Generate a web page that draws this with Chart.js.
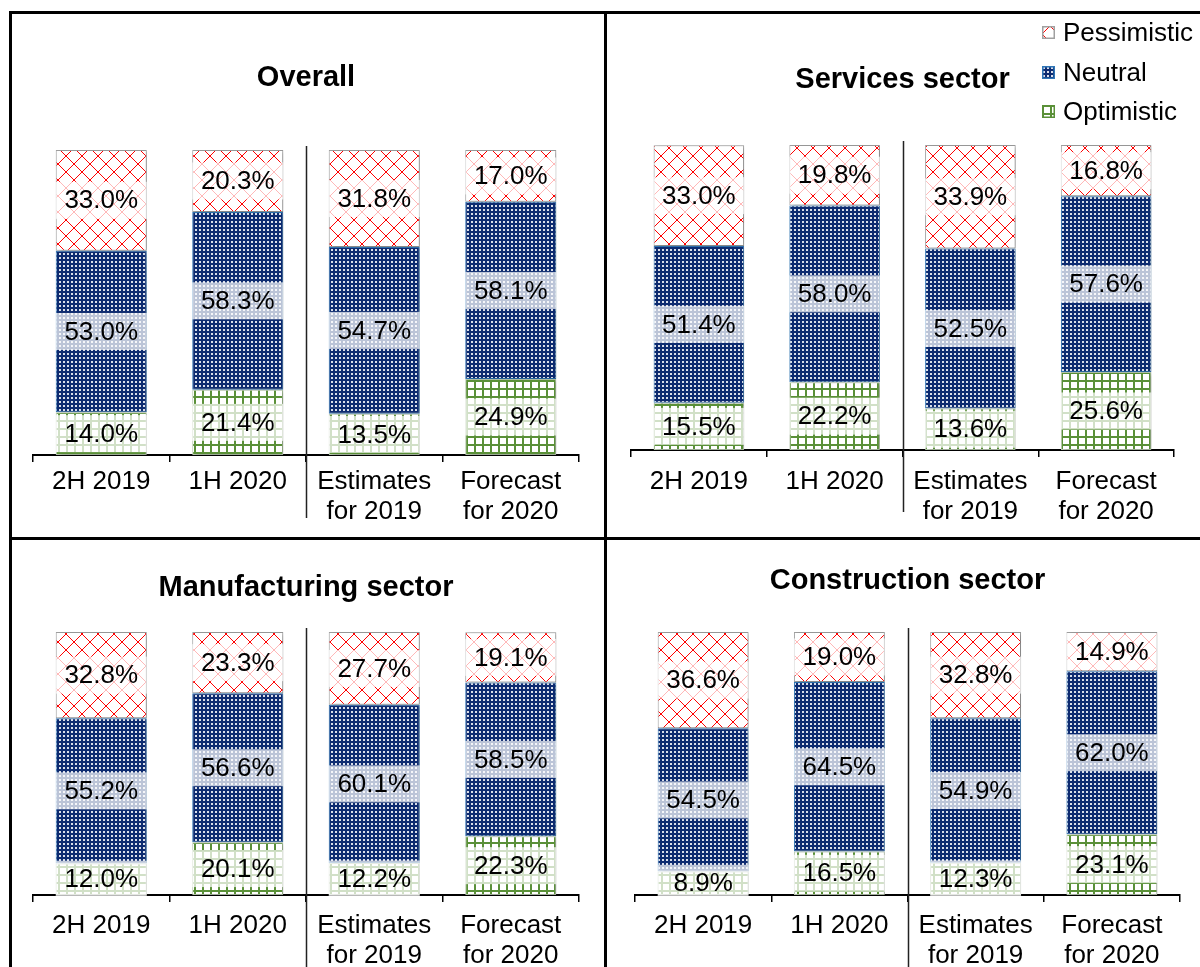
<!DOCTYPE html>
<html>
<head>
<meta charset="utf-8">
<script src="https://cdn.jsdelivr.net/npm/chart.js@4.4.0/dist/chart.umd.min.js"></script>
<style>
  body { margin: 0; background: #fff; width: 1200px; height: 967px; overflow: hidden; position: relative;
         font-family: 'Liberation Sans', Arial, sans-serif; }
  .panel { position: absolute; }
  .rule { position: absolute; background: #000; z-index: 5; }
  #legend { position: absolute; left: 1042px; top: 13px; z-index: 6; }
  .item { height: 39.5px; display: flex; align-items: center; font-size: 26px; color: #000; }
  .item canvas { margin-right: 8px; }
</style>
</head>
<body>
<canvas id="c1" class="panel" width="595" height="526" style="left:10px;top:12px"></canvas>
<canvas id="c2" class="panel" width="595" height="526" style="left:605px;top:12px"></canvas>
<canvas id="c3" class="panel" width="595" height="429" style="left:10px;top:538px"></canvas>
<canvas id="c4" class="panel" width="595" height="429" style="left:605px;top:538px"></canvas>

<div class="rule" style="left:9px;top:11px;width:1191px;height:3px"></div>
<div class="rule" style="left:9px;top:11px;width:3px;height:956px"></div>
<div class="rule" style="left:604px;top:11px;width:3px;height:956px"></div>
<div class="rule" style="left:9px;top:537px;width:1191px;height:3px"></div>

<div id="legend"></div>

<script>
// Categories (x axis)
const categories = ["2H 2019", "1H 2020", ["Estimates", "for 2019"], ["Forecast", "for 2020"]];
const seriesNames = ["Optimistic", "Neutral", "Pessimistic"];

// Overall
const overallOptimistic  = [14.0, 21.4, 13.5, 24.9];
const overallNeutral     = [53.0, 58.3, 54.7, 58.1];
const overallPessimistic = [33.0, 20.3, 31.8, 17.0];

// Services sector
const servicesOptimistic  = [15.5, 22.2, 13.6, 25.6];
const servicesNeutral     = [51.4, 58.0, 52.5, 57.6];
const servicesPessimistic = [33.0, 19.8, 33.9, 16.8];

// Manufacturing sector
const manufOptimistic  = [12.0, 20.1, 12.2, 22.3];
const manufNeutral     = [55.2, 56.6, 60.1, 58.5];
const manufPessimistic = [32.8, 23.3, 27.7, 19.1];

// Construction sector
const constrOptimistic  = [8.9, 16.5, 12.3, 23.1];
const constrNeutral     = [54.5, 64.5, 54.9, 62.0];
const constrPessimistic = [36.6, 19.0, 32.8, 14.9];

const FONT = "'Liberation Sans', Arial, sans-serif";

// Patrones de relleno
function makePattern(kind) {
  const c = document.createElement("canvas");
  const g = c.getContext("2d");
  if (kind === "Pessimistic") {
    c.width = c.height = 16;
    g.fillStyle = "#fff"; g.fillRect(0, 0, 16, 16);
    g.strokeStyle = "#ff0000"; g.lineWidth = 1;
    g.beginPath();
    g.moveTo(0, 8); g.lineTo(8, 0); g.lineTo(16, 8); g.lineTo(8, 16); g.closePath();
    g.stroke();
  } else if (kind === "Neutral") {
    c.width = c.height = 4;
    g.fillStyle = "#0d2b70"; g.fillRect(0, 0, 4, 4);
    g.fillStyle = "rgba(255,255,255,0.85)"; g.fillRect(1, 1, 2, 2);
  } else {
    c.width = c.height = 8;
    g.fillStyle = "#fff"; g.fillRect(0, 0, 8, 8);
    g.fillStyle = "#5a9038";
    g.fillRect(0, 0, 8, 2);
    g.fillRect(0, 0, 2, 8);
  }
  return g.createPattern(c, "repeat");
}

const fills = {
  Optimistic: makePattern("Optimistic"),
  Neutral: makePattern("Neutral"),
  Pessimistic: makePattern("Pessimistic")
};
const borders = { Optimistic: "#b9c9b0", Neutral: "#2e75b6", Pessimistic: "#a0a0a0" };

// Etiquetas con caja semitransparente + sombra de barras
const labelPlugin = {
  id: "segLabels",
  beforeDatasetsDraw(chart) {
    const ctx = chart.ctx;
    ctx.save();
    ctx.shadowColor = "rgba(0,0,0,0.25)";
    ctx.shadowBlur = 4;
    ctx.shadowOffsetX = 3;
    ctx.shadowOffsetY = 1;
  },
  afterDatasetsDraw(chart) {
    const ctx = chart.ctx;
    ctx.restore();
    ctx.save();
    ctx.font = "26px " + FONT;
    ctx.textAlign = "center";
    ctx.textBaseline = "middle";
    chart.data.datasets.forEach((ds, i) => {
      const meta = chart.getDatasetMeta(i);
      meta.data.forEach((bar, j) => {
        const p = bar.getProps(["x", "y", "base", "width"], true);
        const txt = ds.data[j].toFixed(1) + "%";
        const tw = ctx.measureText(txt).width;
        const bw = Math.max(p.width, tw + 8);
        const cy = (p.y + p.base) / 2;
        ctx.fillStyle = "rgba(255,255,255,0.72)";
        ctx.fillRect(p.x - bw / 2, cy - 18.5, bw, 37);
        ctx.fillStyle = "#000";
        ctx.fillText(txt, p.x, cy + 1);
      });
    });
    ctx.restore();
  },
  afterDraw(chart) {
    // línea separadora entre datos reales y estimaciones
    const xs = chart.scales.x;
    const a = chart.chartArea;
    const x = Math.round((xs.getPixelForTick(1) + xs.getPixelForTick(2)) / 2) + 0.5;
    const ctx = chart.ctx;
    ctx.save();
    ctx.strokeStyle = "#222";
    ctx.lineWidth = 1.5;
    ctx.beginPath();
    ctx.moveTo(x, a.top - 4);
    ctx.lineTo(x, Math.min(chart.height, a.bottom + chart.options.divExt));
    ctx.stroke();
    ctx.restore();
  }
};

const panels = [
  { id: "c1", title: "Overall", pad: [23, 26], tPad: [48.6, 54.6], axisH: 83, tickPad: 5, divExt: 63,
    series: [overallOptimistic, overallNeutral, overallPessimistic] },
  { id: "c2", title: "Services sector", pad: [26, 26], tPad: [50.6, 47.6], axisH: 88, tickPad: 10, divExt: 62,
    series: [servicesOptimistic, servicesNeutral, servicesPessimistic] },
  { id: "c3", title: "Manufacturing sector", pad: [23, 26], tPad: [32.6, 26.6], axisH: 72, tickPad: 9, divExt: 200,
    series: [manufOptimistic, manufNeutral, manufPessimistic] },
  { id: "c4", title: "Construction sector", pad: [30, 20], tPad: [25.6, 33.6], axisH: 72, tickPad: 9, divExt: 200,
    series: [constrOptimistic, constrNeutral, constrPessimistic] }
];

panels.forEach(function (p) {
  const datasets = seriesNames.map((name, i) => ({
    label: name,
    data: p.series[i],
    backgroundColor: fills[name],
    borderColor: borders[name],
    borderWidth: 1,
    borderSkipped: false,
    barPercentage: 0.667,
    categoryPercentage: 1
  }));
  new Chart(document.getElementById(p.id), {
    type: "bar",
    data: { labels: categories, datasets: datasets },
    plugins: [labelPlugin],
    options: {
      responsive: false,
      animation: false,
      divExt: p.divExt,
      layout: { padding: { left: p.pad[0], right: p.pad[1], top: 0, bottom: 0 } },
      plugins: {
        legend: { display: false },
        tooltip: { enabled: false },
        title: {
          display: true,
          text: p.title,
          color: "#000",
          font: { family: FONT, size: 29, weight: "bold", lineHeight: 1.2 },
          padding: { top: p.tPad[0], bottom: p.tPad[1] }
        }
      },
      scales: {
        x: {
          stacked: true,
          offset: true,
          afterFit: (scale) => { scale.height = p.axisH; },
          grid: { display: true, offset: true, drawOnChartArea: false, drawTicks: true,
                  tickLength: 7, color: "#000", lineWidth: 1.5 },
          border: { display: true, color: "#000", width: 2 },
          ticks: { color: "#000", padding: p.tickPad, maxRotation: 0, autoSkip: false,
                   font: { family: FONT, size: 26, lineHeight: 1.15 } }
        },
        y: { stacked: true, display: false, min: 0, max: 100 }
      }
    }
  });
});

// Leyenda
const legendEl = document.getElementById("legend");
seriesNames.slice().reverse().forEach(function (name) {
  const row = document.createElement("div");
  row.className = "item";
  const sw = document.createElement("canvas");
  sw.width = 13; sw.height = 13;
  const g = sw.getContext("2d");
  g.fillStyle = fills[name]; g.fillRect(0, 0, 13, 13);
  g.strokeStyle = name === "Optimistic" ? "#5a9038" : borders[name];
  g.lineWidth = 1.5; g.strokeRect(0.75, 0.75, 11.5, 11.5);
  row.appendChild(sw);
  const t = document.createElement("span");
  t.textContent = name;
  row.appendChild(t);
  legendEl.appendChild(row);
});
</script>
</body>
</html>
